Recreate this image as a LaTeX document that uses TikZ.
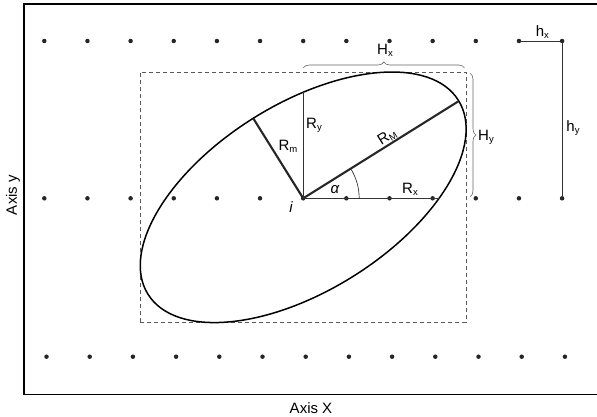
\documentclass[tikz,border=0pt]{standalone}
\usepackage{fontspec}
\setmainfont{Liberation Sans}
\usetikzlibrary{decorations.pathreplacing,calc}
\newcommand{\lblsub}[1]{{\fontsize{9.5}{9.5}\selectfont\raisebox{-2pt}{#1}}}
\begin{document}
\begin{tikzpicture}[x=1pt,y=1pt,
  dot/.style={circle,fill=black!85,inner sep=0pt,minimum size=4.5pt},
  lbl/.style={inner sep=0pt,font=\fontsize{15}{15}\selectfont},
  thinline/.style={line width=0.7pt,black!80},
  thickline/.style={line width=2.1pt,black!85},
  dashbox/.style={line width=0.7pt,black!65,dash pattern=on 4pt off 3pt},
  bracestyle/.style={line width=0.6pt,black!60,decorate,decoration={brace,amplitude=6pt}}]
\useasboundingbox (0,0) rectangle (597,416);
% frame
\draw[line width=1.1pt] (610,412) -- (24,412) -- (24,21.5) -- (610,21.5);
% grid of points
\foreach \k in {0,...,12}{
  \node[dot] (top-\k) at ({44.3+43.15*\k},375) {};
  \node[dot] (mid-\k) at ({44.3+43.15*\k},217.7) {};
  \node[dot] (bot-\k) at ({46.5+43.2*\k},59.3) {};
}
\coordinate (C) at (mid-6);
% dashed bounding box
\draw[dashbox] ($(C)+(-163,-124)$) rectangle ($(C)+(163,126)$);
% ellipse
\draw[line width=1.5pt] ($(C)+(0,1)$) ellipse[x radius=183, y radius=93.5, rotate=32];
% radii
\coordinate (RMend) at ($(C)+(32:183)$);
\coordinate (Rmend) at ($(C)+(122:94)$);
\coordinate (Ryend) at ($(C)+(0,106)$);
\coordinate (Rxend) at ($(C)+(137,0)$);
\draw[thickline] (C) -- (RMend);
\draw[thickline] (C) -- (Rmend);
\draw[thinline] (C) -- (Ryend);
\draw[thinline] (C) -- (Rxend);
\draw[thinline] ($(C)+(56,0)$) arc[start angle=0,end angle=32,radius=56];
% labels
\node[lbl] (alpha) at (335,226) {\itshape α};
\node[lbl] (Rx) at (410,226.7) {R\lblsub{x}};
\node[lbl,rotate=32] (RM) at (387,279.3) {R\lblsub{M}};
\node[lbl] (Ry) at (314,291) {R\lblsub{y}};
\node[lbl] (Rm) at (288,270) {R\lblsub{m}};
\node[lbl] (ilbl) at (291,208.5) {\itshape i};
% braces
\coordinate (HxL) at (303.3,348);
\coordinate (HxR) at (464.5,348);
\draw[bracestyle] (HxL) -- (HxR);
\node[lbl] (Hx) at (385,365.3) {H\lblsub{x}};
\coordinate (HyT) at (470,342.7);
\coordinate (HyB) at (470,219.3);
\draw[bracestyle] (HyT) -- (HyB);
\node[lbl] (Hy) at (486,279) {H\lblsub{y}};
% grid spacing
\draw[thinline] (top-11) -- (top-12);
\draw[thinline] (top-12) -- (mid-12);
\node[lbl] (hx) at (542.3,384.3) {h\lblsub{x}};
\node[lbl] (hy) at (573,287.7) {h\lblsub{y}};
% axes
\node[lbl,font=\fontsize{15}{15}\selectfont] (axX) at (311,8) {Axis X};
\node[lbl,font=\fontsize{15}{15}\selectfont,rotate=90] (axY) at (13,221) {Axis y};
\end{tikzpicture}
\end{document}
